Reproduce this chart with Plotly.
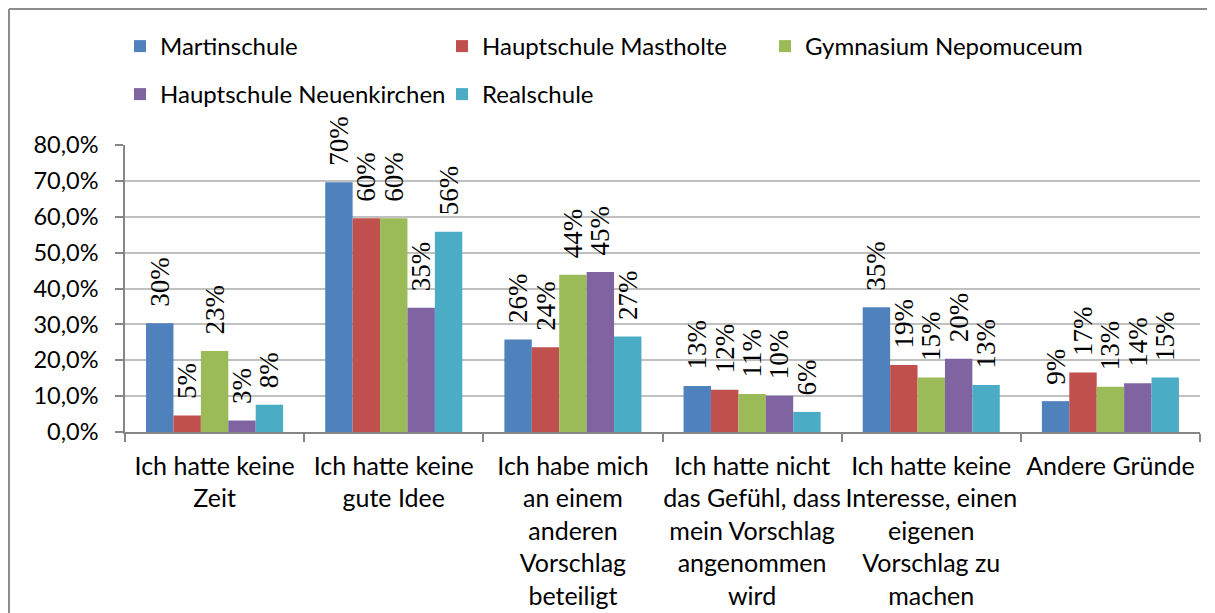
import plotly.graph_objects as go

# ---- data ----
categories = ["Zeit", "Idee", "Beteiligt", "Gefuehl", "Interesse", "Andere"]
tick_labels = [
    "Ich hatte keine<br>Zeit",
    "Ich hatte keine<br>gute Idee",
    "Ich habe mich<br>an einem<br>anderen<br>Vorschlag<br>beteiligt",
    "Ich hatte nicht<br>das Gefühl, dass<br>mein Vorschlag<br>angenommen<br>wird",
    "Ich hatte keine<br>Interesse, einen<br>eigenen<br>Vorschlag zu<br>machen",
    "Andere Gründe",
]
series_names = ["Martinschule", "Hauptschule Mastholte", "Gymnasium Nepomuceum",
                "Hauptschule Neuenkirchen", "Realschule"]
martinschule = [0.303, 0.696, 0.258, 0.128, 0.348, 0.086]
mastholte = [0.046, 0.596, 0.236, 0.118, 0.187, 0.166]
nepomuceum = [0.226, 0.596, 0.438, 0.106, 0.152, 0.126]
neuenkirchen = [0.032, 0.346, 0.446, 0.101, 0.204, 0.136]
realschule = [0.076, 0.558, 0.266, 0.056, 0.131, 0.152]
colors = ["#4F81BD", "#C0504D", "#9BBB59", "#8064A2", "#4BACC6"]
y_ticks = [0.0, 0.1, 0.2, 0.3, 0.4, 0.5, 0.6, 0.7, 0.8]

all_series = [martinschule, mastholte, nepomuceum, neuenkirchen, realschule]

# ---- geometry (screen pixels; the page body adds an 8px offset) ----
W, H = 1215, 613
OFF = 8
ML, MT = 125 - OFF, 145 - OFF
MR = W - (1200 - OFF)
MB = H - (432 - OFF)
PW, PH = W - ML - MR, H - MT - MB

def fx(p):
    """figure pixel (x) -> paper fraction"""
    return (p - ML) / PW

def fy(p):
    """figure pixel (y from top) -> paper fraction"""
    return (H - MB - p) / PH

# legend entry anchor positions (screen px): left edge of entry, row centre
legend_pos = [(120, 46.5), (442, 46.5), (765, 46.5), (120, 94.5), (442, 94.5)]

SANS = "Lato"
SERIF = "Liberation Serif"

fig = go.Figure()
legend_layout = {}
for i, (name, vals, col) in enumerate(zip(series_names, all_series, colors)):
    lid = "legend" if i == 0 else f"legend{i + 1}"
    fig.add_trace(go.Bar(
        x=categories, y=vals, name=name, legend=lid, showlegend=True,
        marker=dict(color=col, line=dict(width=0)),
        texttemplate="\u00a0\u00a0%{y:.0%}", textposition="outside",
        textangle=-90, constraintext="none", cliponaxis=False,
        textfont=dict(family=SERIF, size=27, color="black"),
    ))
    lx, ly = legend_pos[i]
    legend_layout[lid] = dict(
        orientation="h", xref="container", yref="container",
        x=(lx - OFF) / W, y=1 - (ly - OFF) / H,
        xanchor="left", yanchor="middle", visible=True,
        font=dict(family=SANS, size=24, color="black"),
        bgcolor="rgba(0,0,0,0)", borderwidth=0)

fig.update_layout(
    width=W, height=H, autosize=False, showlegend=True,
    margin=dict(l=ML, r=MR, t=MT, b=MB, autoexpand=False),
    paper_bgcolor="white", plot_bgcolor="white",
    separators=",.",
    barmode="group", bargap=0.235, bargroupgap=0,
    font=dict(family=SANS, size=23, color="black"),
    **legend_layout,
    xaxis=dict(type="category", tickvals=categories, ticktext=tick_labels,
               tickson="boundaries", ticks="outside", ticklen=8,
               tickcolor="#868686", tickwidth=1.5, tickangle=0,
               showline=True, linecolor="#868686", linewidth=1.5,
               showgrid=False, zeroline=False, automargin=False,
               tickfont=dict(family=SANS, size=25, color="black"),
               ticklabelstandoff=11),
    yaxis=dict(range=[0, 0.8], tickvals=y_ticks, tickformat=".1%",
               ticks="outside", ticklen=8, tickcolor="#868686", tickwidth=1.5,
               showline=True, linecolor="#868686", linewidth=1.5,
               showgrid=True, gridcolor="#c0c0c0", gridwidth=1.5,
               zeroline=False, ticklabelstandoff=12, automargin=False,
               tickfont=dict(family=SANS, size=23.5, color="black")),
)

# outer chart frame: only its top and left edges are visible in the picture
border = dict(color="#8c8c8c", width=2)
fig.add_shape(type="line", xref="paper", yref="paper",
              x0=fx(1), x1=fx(W + 20), y0=fy(1), y1=fy(1), line=border, layer="below")
fig.add_shape(type="line", xref="paper", yref="paper",
              x0=fx(1), x1=fx(1), y0=fy(1), y1=fy(H + 20), line=border, layer="below")

fig.write_html("out.html")
